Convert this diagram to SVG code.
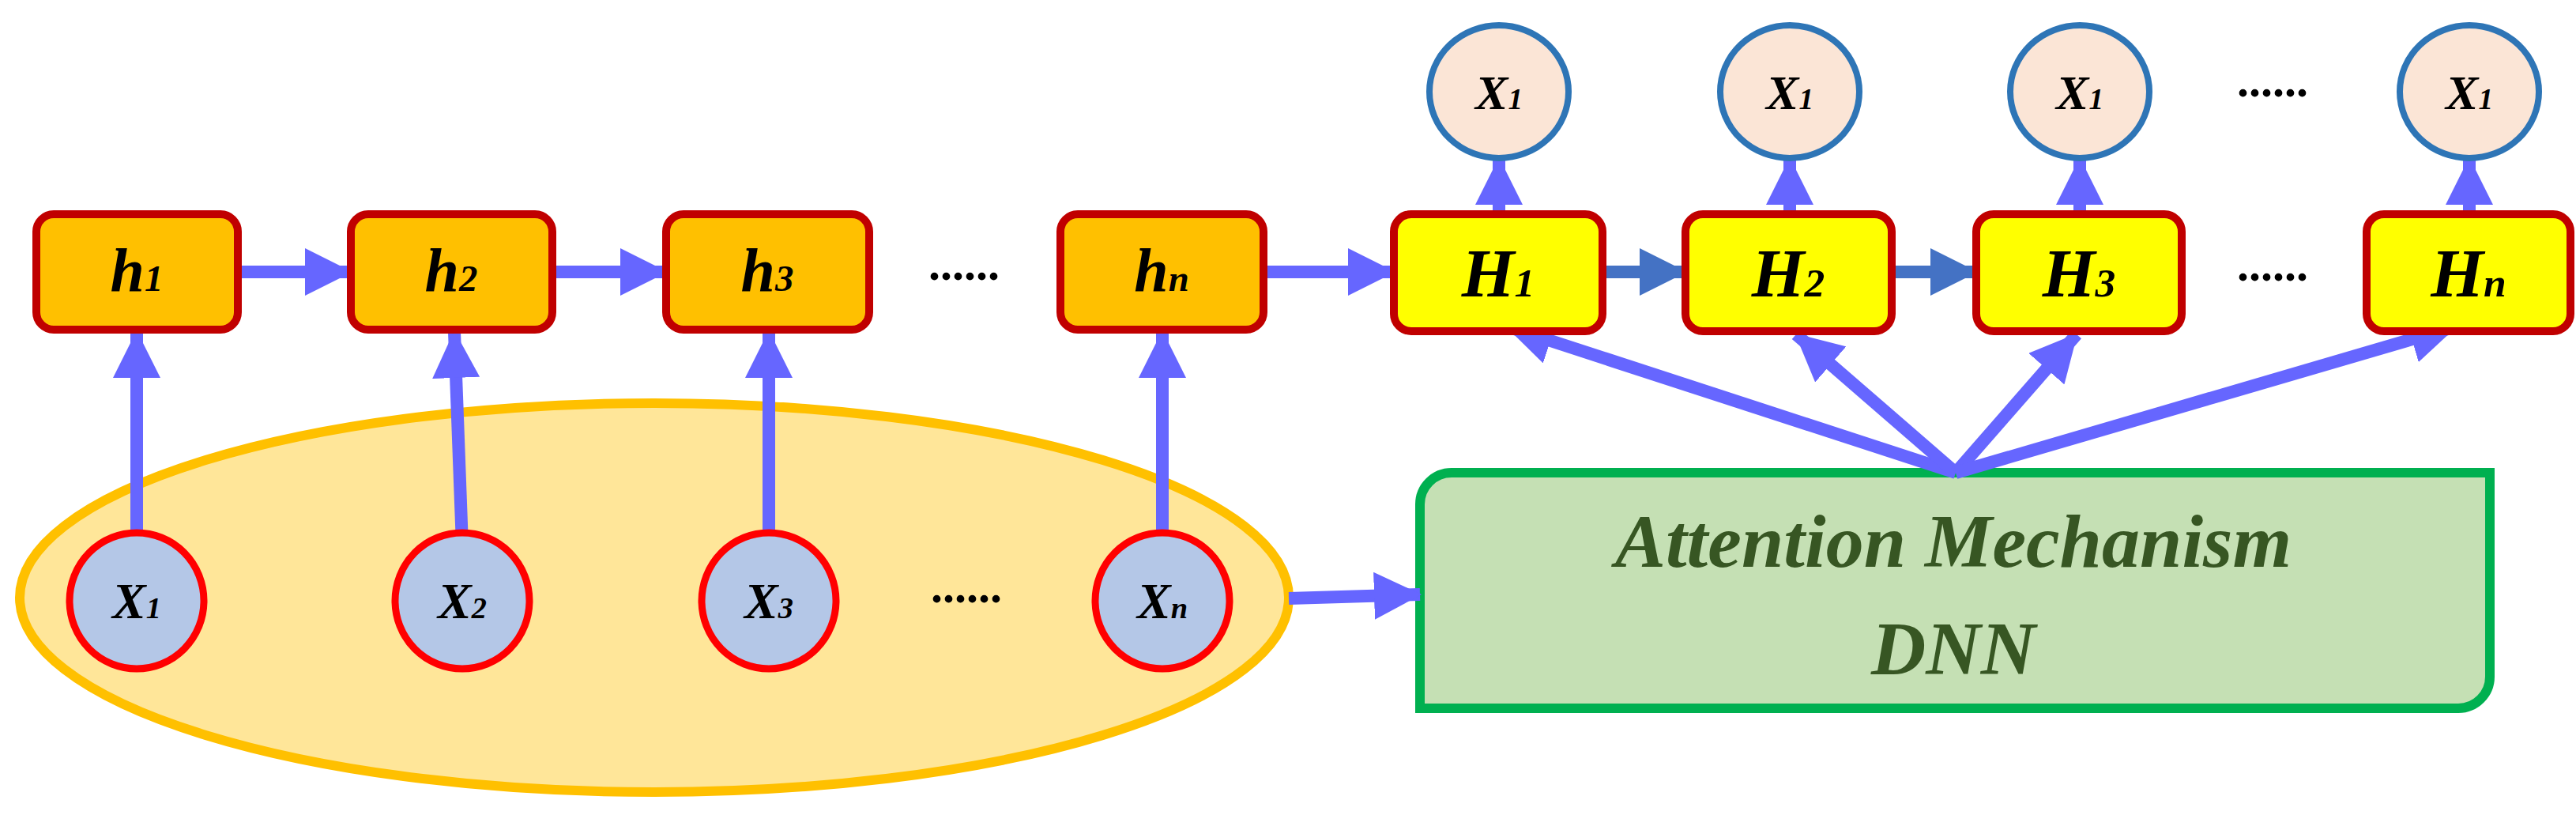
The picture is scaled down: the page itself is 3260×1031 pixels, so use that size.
<svg xmlns="http://www.w3.org/2000/svg" width="3260" height="1031" viewBox="0 0 3260 1031">
<defs>
<style>
.h{fill:#FFC000;stroke:#C00000;stroke-width:10}
.H{fill:#FFFF00;stroke:#C00000;stroke-width:10}
.x{fill:#B4C7E7;stroke:#FF0000;stroke-width:9}
.o{fill:#FBE5D6;stroke:#2E75B6;stroke-width:8}
.t{font-family:"Liberation Serif",serif;font-style:italic;font-weight:bold;fill:#000;text-anchor:middle}
.s{font-size:0.6em}
.a{stroke:#6666FF;stroke-width:16;fill:none;marker-end:url(#m)}
.b{stroke:#4472C4;stroke-width:16;fill:none;marker-end:url(#mb)}
.d{font-family:"Liberation Serif",serif;font-weight:bold;font-size:60px;fill:#000;text-anchor:middle}
</style>
<marker id="m" markerUnits="userSpaceOnUse" markerWidth="60" markerHeight="60" refX="58" refY="30" orient="auto" viewBox="0 0 60 60"><path d="M0,0L60,30L0,60Z" fill="#6666FF"/></marker>
<marker id="mb" markerUnits="userSpaceOnUse" markerWidth="60" markerHeight="60" refX="58" refY="30" orient="auto" viewBox="0 0 60 60"><path d="M0,0L60,30L0,60Z" fill="#4472C4"/></marker>
</defs>
<ellipse id="group" cx="828" cy="756" rx="803" ry="246" fill="#FFE699" stroke="#FFC000" stroke-width="12"/>
<g id="dnn">
<path d="M1837,598H3151V856A40,40 0 0 1 3111,896H1797V638A40,40 0 0 1 1837,598Z" fill="#C5E0B4" stroke="#00B050" stroke-width="12"/>
<text x="2472" y="717" font-family="'Liberation Serif',serif" font-style="italic" font-weight="bold" font-size="96" fill="#375623" text-anchor="middle">Attention Mechanism</text>
<text x="2472" y="853" font-family="'Liberation Serif',serif" font-style="italic" font-weight="bold" font-size="96" fill="#375623" text-anchor="middle">DNN</text>
</g>
<g id="connectors">
<line class="a" x1="173" y1="690" x2="173" y2="420"/>
<line class="a" x1="585" y1="690" x2="575" y2="420"/>
<line class="a" x1="973" y1="690" x2="973" y2="420"/>
<line class="a" x1="1471" y1="690" x2="1471" y2="420"/>
<line class="a" x1="301" y1="344" x2="444" y2="344"/>
<line class="a" x1="699" y1="344" x2="843" y2="344"/>
<line class="a" x1="1599" y1="344" x2="1764" y2="344"/>
<line class="b" x1="2028" y1="344" x2="2133" y2="344"/>
<line class="b" x1="2394" y1="344" x2="2501" y2="344"/>
<line class="a" x1="1897" y1="271" x2="1897" y2="201"/>
<line class="a" x1="2265" y1="271" x2="2265" y2="201"/>
<line class="a" x1="2632" y1="271" x2="2632" y2="201"/>
<line class="a" x1="3125" y1="271" x2="3125" y2="201"/>
<line class="a" x1="1631" y1="757" x2="1797" y2="752"/>
<line class="a" x1="2475" y1="598" x2="1907" y2="413"/>
<line class="a" x1="2475" y1="598" x2="2273" y2="423"/>
<line class="a" x1="2475" y1="598" x2="2628" y2="423"/>
<line class="a" x1="2475" y1="598" x2="3108" y2="413"/>
</g>
<g id="h1"><rect class="h" x="46" y="271" width="255" height="146" rx="22"/><text class="t" x="173" y="368" font-size="78">h<tspan class="s">1</tspan></text></g>
<g id="h2"><rect class="h" x="444" y="271" width="255" height="146" rx="22"/><text class="t" x="571" y="368" font-size="78">h<tspan class="s">2</tspan></text></g>
<g id="h3"><rect class="h" x="843" y="271" width="257" height="146" rx="22"/><text class="t" x="971" y="368" font-size="78">h<tspan class="s">3</tspan></text></g>
<text class="d" x="1220" y="354">......</text>
<g id="hn"><rect class="h" x="1342" y="271" width="257" height="146" rx="22"/><text class="t" x="1470" y="368" font-size="78">h<tspan class="s">n</tspan></text></g>
<g id="H1"><rect class="H" x="1764" y="271" width="264" height="148" rx="22"/><text class="t" x="1896" y="375" font-size="86">H<tspan class="s">1</tspan></text></g>
<g id="H2"><rect class="H" x="2133" y="271" width="261" height="148" rx="22"/><text class="t" x="2263" y="375" font-size="86">H<tspan class="s">2</tspan></text></g>
<g id="H3"><rect class="H" x="2501" y="271" width="260" height="148" rx="22"/><text class="t" x="2631" y="375" font-size="86">H<tspan class="s">3</tspan></text></g>
<text class="d" x="2876" y="355">......</text>
<g id="Hn"><rect class="H" x="2995" y="271" width="258" height="148" rx="22"/><text class="t" x="3124" y="375" font-size="86">H<tspan class="s">n</tspan></text></g>
<g id="o1"><ellipse class="o" cx="1897" cy="116" rx="88" ry="84"/><text class="t" x="1897" y="138" font-size="62">X<tspan class="s">1</tspan></text></g>
<g id="o2"><ellipse class="o" cx="2265" cy="116" rx="88" ry="84"/><text class="t" x="2265" y="138" font-size="62">X<tspan class="s">1</tspan></text></g>
<g id="o3"><ellipse class="o" cx="2632" cy="116" rx="88" ry="84"/><text class="t" x="2632" y="138" font-size="62">X<tspan class="s">1</tspan></text></g>
<text class="d" x="2876" y="122">......</text>
<g id="o4"><ellipse class="o" cx="3125" cy="116" rx="88" ry="84"/><text class="t" x="3125" y="138" font-size="62">X<tspan class="s">1</tspan></text></g>
<g id="x1"><ellipse class="x" cx="173" cy="760" rx="85" ry="86"/><text class="t" x="173" y="782" font-size="64">X<tspan class="s">1</tspan></text></g>
<g id="x2"><ellipse class="x" cx="585" cy="760" rx="85" ry="86"/><text class="t" x="585" y="782" font-size="64">X<tspan class="s">2</tspan></text></g>
<g id="x3"><ellipse class="x" cx="973" cy="760" rx="85" ry="86"/><text class="t" x="973" y="782" font-size="64">X<tspan class="s">3</tspan></text></g>
<text class="d" x="1223" y="762">......</text>
<g id="xn"><ellipse class="x" cx="1471" cy="760" rx="85" ry="86"/><text class="t" x="1471" y="782" font-size="64">X<tspan class="s">n</tspan></text></g>
</svg>
